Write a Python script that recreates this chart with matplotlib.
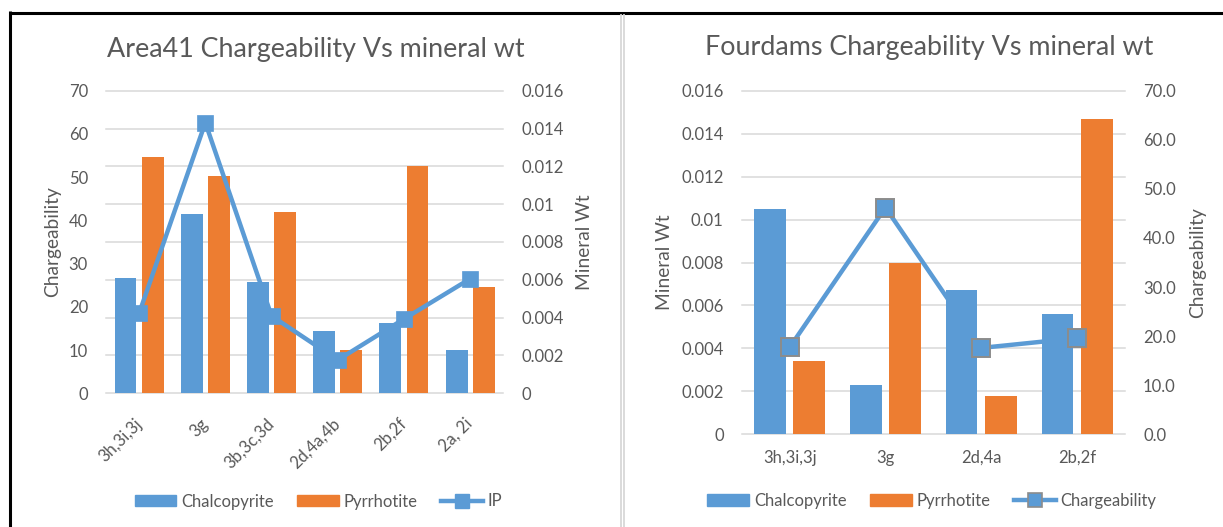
import matplotlib
matplotlib.use("Agg")
import matplotlib.pyplot as plt
from matplotlib.lines import Line2D
from matplotlib.patches import Patch
import numpy as np

plt.rcParams["font.family"] = ["Lato", "DejaVu Sans"]

# ---- Area41 ----
area41_samples = ["3h,3i,3j", "3g", "3b,3c,3d", "2d,4a,4b", "2b,2f", "2a, 2i"]
area41_chalcopyrite = [0.0061, 0.0095, 0.0059, 0.0033, 0.0037, 0.0023]
area41_pyrrhotite = [0.0125, 0.0115, 0.0096, 0.0023, 0.0120, 0.0056]
area41_ip = [18.5, 62.6, 17.9, 7.7, 17.2, 26.5]

# ---- Fourdams ----
fourdams_samples = ["3h,3i,3j", "3g", "2d,4a", "2b,2f"]
fourdams_chalcopyrite = [0.0105, 0.0023, 0.0067, 0.0056]
fourdams_pyrrhotite = [0.0034, 0.0080, 0.0018, 0.0147]
fourdams_chargeability = [17.7, 46.2, 17.6, 19.6]

# ---- axis ticks ----
wt_ticks = [0, 0.002, 0.004, 0.006, 0.008, 0.010, 0.012, 0.014, 0.016]
wt_tick_labels = ["0", "0.002", "0.004", "0.006", "0.008", "0.01", "0.012", "0.014", "0.016"]
charge_ticks = [0, 10, 20, 30, 40, 50, 60, 70]
area41_charge_labels = ["0", "10", "20", "30", "40", "50", "60", "70"]
fourdams_charge_labels = ["0.0", "10.0", "20.0", "30.0", "40.0", "50.0", "60.0", "70.0"]

BLUE = "#5b9bd5"
ORANGE = "#ed7d31"
TEXT = "#595959"
GRID = "#d9d9d9"
EDGE = "#8c8c8c"

W, H = 1223, 527
fig = plt.figure(figsize=(W / 100, H / 100), dpi=100)


def rect_px(x0, y0, x1, y1):
    return [x0 / W, 1 - y1 / H, (x1 - x0) / W, (y1 - y0) / H]


def build_panel(rect, samples, chalco, pyrr, charge, charge_labels,
                wt_on_left, marker_edge):
    ax_wt = fig.add_axes(rect)
    ax_ch = ax_wt.twinx()
    x = np.arange(len(samples))
    width, off = 0.33, 0.205
    ax_wt.bar(x - off, chalco, width, color=BLUE, zorder=2)
    ax_wt.bar(x + off, pyrr, width, color=ORANGE, zorder=2)
    ax_ch.plot(x, charge, color=BLUE, lw=3.2, marker="s",
               markersize=12.5 if marker_edge else 11.8,
               markerfacecolor=BLUE,
               markeredgecolor=EDGE if marker_edge else BLUE,
               markeredgewidth=1.4 if marker_edge else 0.5,
               solid_joinstyle="round", zorder=3)

    ax_wt.set_xlim(-0.5, len(samples) - 0.5)
    ax_wt.set_ylim(0, 0.016)
    ax_ch.set_ylim(0, 70)
    ax_wt.set_yticks(wt_ticks)
    ax_wt.set_yticklabels(wt_tick_labels)
    ax_ch.set_yticks(charge_ticks)
    ax_ch.set_yticklabels(charge_labels)
    ax_wt.set_xticks(x)

    ax_wt.set_axisbelow(True)
    ax_wt.yaxis.grid(True, color=GRID, lw=1.1)
    for gl in ax_wt.get_ygridlines():
        gl.set_clip_on(False)

    for a in (ax_wt, ax_ch):
        for s in a.spines.values():
            s.set_visible(False)
        a.tick_params(length=0, labelsize=12, labelcolor=TEXT, pad=13)

    if wt_on_left:
        ax_wt.yaxis.tick_left()
        ax_wt.yaxis.set_label_position("left")
        ax_ch.yaxis.tick_right()
        ax_ch.yaxis.set_label_position("right")
    else:
        ax_wt.yaxis.tick_right()
        ax_wt.yaxis.set_label_position("right")
        ax_ch.yaxis.tick_left()
        ax_ch.yaxis.set_label_position("left")
    return ax_wt, ax_ch


def place_ylabel(ax, text, x_px, rect_x0, rect_w):
    ax.set_ylabel(text, fontsize=13.8, color=TEXT)
    ax.yaxis.set_label_coords((x_px - rect_x0) / rect_w, 0.5)
    ax.yaxis.label.set_verticalalignment("center")
    ax.yaxis.label.set_horizontalalignment("center")


# ---- left chart: Area41 ----
la = (106, 90.7, 503.3, 393.3)
ax1w, ax1c = build_panel(rect_px(*la), area41_samples, area41_chalcopyrite,
                         area41_pyrrhotite, area41_ip, area41_charge_labels,
                         wt_on_left=False, marker_edge=False)
ax1w.set_xticklabels(area41_samples, rotation=45, ha="right", va="center",
                     rotation_mode="anchor")
ax1w.tick_params(axis="x", pad=20)
place_ylabel(ax1c, "Chargeability", 52.5, la[0], la[2] - la[0])
place_ylabel(ax1w, "Mineral Wt", 585, la[0], la[2] - la[0])
fig.text(316 / W, 1 - 50 / H, "Area41 Chargeability Vs mineral wt",
         ha="center", va="center", fontsize=19.4, color=TEXT)

leg1 = [Patch(color=BLUE, label="Chalcopyrite"),
        Patch(color=ORANGE, label="Pyrrhotite"),
        Line2D([], [], color=BLUE, lw=3.2, marker="s", markersize=9.5,
               markeredgecolor=BLUE, label="IP")]
fig.legend(handles=leg1, loc="center", bbox_to_anchor=(318.5 / W, 1 - 501.5 / H),
           ncol=3, frameon=False, fontsize=12, labelcolor=TEXT,
           handlelength=2.5, handleheight=0.68, handletextpad=0.3,
           columnspacing=1.4)

# ---- right chart: Fourdams ----
ra = (741.7, 90.7, 1125, 434.3)
ax2w, ax2c = build_panel(rect_px(*ra), fourdams_samples, fourdams_chalcopyrite,
                         fourdams_pyrrhotite, fourdams_chargeability,
                         fourdams_charge_labels, wt_on_left=True, marker_edge=True)
ax2w.set_xticklabels(fourdams_samples)
ax2w.tick_params(axis="x", pad=11)
place_ylabel(ax2w, "Mineral Wt", 665, ra[0], ra[2] - ra[0])
place_ylabel(ax2c, "Chargeability", 1197.5, ra[0], ra[2] - ra[0])
fig.text(929.5 / W, 1 - 48 / H, "Fourdams Chargeability Vs mineral wt",
         ha="center", va="center", fontsize=19.4, color=TEXT)

leg2 = [Patch(color=BLUE, label="Chalcopyrite"),
        Patch(color=ORANGE, label="Pyrrhotite"),
        Line2D([], [], color=BLUE, lw=3.2, marker="s", markersize=10,
               markeredgecolor=EDGE, markeredgewidth=1.2, label="Chargeability")]
fig.legend(handles=leg2, loc="center", bbox_to_anchor=(932 / W, 1 - 501 / H),
           ncol=3, frameon=False, fontsize=12, labelcolor=TEXT,
           handlelength=2.5, handleheight=0.68, handletextpad=0.3,
           columnspacing=1.4)

# ---- frame lines around the charts ----
def fig_line(xs, ys, color, lw):
    fig.add_artist(Line2D([x / W for x in xs], [1 - y / H for y in ys],
                          color=color, lw=lw, transform=fig.transFigure,
                          solid_capstyle="butt"))

fig_line([9, W], [12.5, 12.5], "black", 2.2)
fig_line([10.5, 10.5], [11, H], "black", 2.2)
fig_line([620.8, 620.8], [14, H], "#d4d4d4", 1.2)
fig_line([624, 624], [14, H], "#d4d4d4", 1.2)

fig.savefig("out.png", dpi=100, facecolor="white")
